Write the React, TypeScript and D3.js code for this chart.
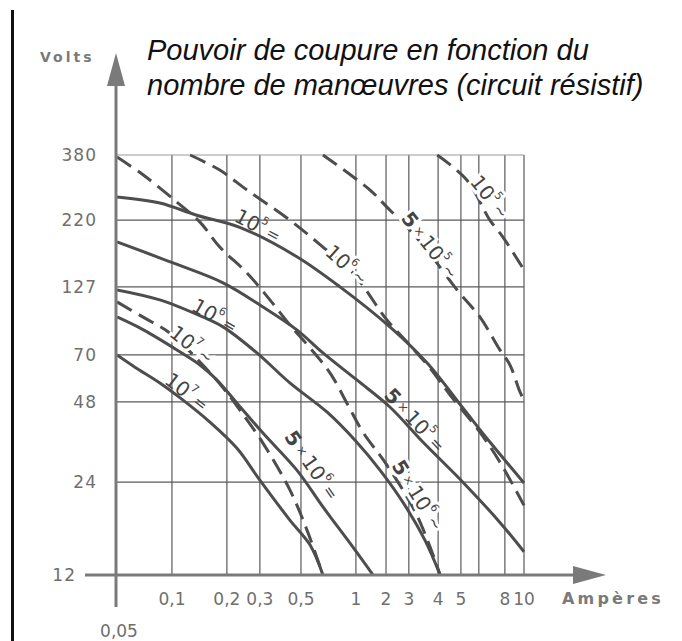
import * as d3 from "d3";

const W = 682;
const H = 641;
const PLOT = { left: 117, right: 524, top: 155, bottom: 575 };

// ampères: the grid is hand drawn, each line sits at its own place
const AMP_TICKS = [0.05, 0.1, 0.2, 0.3, 0.5, 1, 2, 3, 4, 5, 6, 8, 10];
const AMP_LABELS = ["0,05", "0,1", "0,2", "0,3", "0,5", "1", "2", "3", "4", "5", "", "8", "10"];
const AMP_FRAC = [0, 0.135, 0.27, 0.351, 0.452, 0.587, 0.661, 0.717, 0.789, 0.845, 0.889, 0.953, 1];

// volts
const VOLT_TICKS = [12, 24, 48, 70, 127, 220, 380];
const VOLT_FRAC = [0, 0.221, 0.412, 0.524, 0.686, 0.845, 1];

// continu (=), traits pleins : [A, V]
const DC_1E5 = [[0.05, 277], [0.089, 262], [0.145, 232], [0.239, 210], [0.48, 169], [0.855, 127], [2.17, 93.5], [3.62, 66.3], [5.11, 46.2], [6.85, 36], [10, 23.9]];
const DC_5E5 = [[0.05, 189.5], [0.102, 160.3], [0.193, 132.6], [0.315, 110.2], [0.48, 91], [0.7, 71.7], [1.03, 58.3], [2.17, 46.5], [3.48, 36], [5.11, 24], [7.62, 18.8], [10, 15]];
const DC_1E6 = [[0.05, 124.5], [0.089, 116.1], [0.156, 101.8], [0.193, 93.5], [0.291, 71.7], [0.446, 56.9], [0.736, 45], [0.99, 36.6], [1.8, 27.6], [2.83, 21], [3.55, 16.5], [4.09, 12]];
const DC_5E6 = [[0.05, 101.8], [0.074, 91], [0.109, 74.2], [0.151, 65.3], [0.182, 58.3], [0.23, 47.7], [0.315, 38.7], [0.48, 27.6], [0.7, 20.8], [0.973, 15.6], [1.57, 12]];
const DC_1E7 = [[0.05, 70], [0.066, 64.4], [0.089, 56.9], [0.115, 49.9], [0.169, 42], [0.23, 34.2], [0.3, 24.6], [0.446, 19.1], [0.582, 15.9], [0.7, 12]];

// alternatif (~), tirets
const AC_1E5 = [[3.97, 380], [5.33, 318.5], [6.85, 220], [7.85, 196.4], [10, 150.6]];
const AC_5E5 = [[0.7, 380], [1.47, 293.9], [2.04, 252], [3.03, 206.1], [3.62, 178.4], [4.83, 124.5], [6.08, 101.8], [7.62, 74.2], [8.53, 65.3], [9.58, 52.7], [10, 48.9]];
const AC_1E6 = [[0.133, 380], [0.187, 343], [0.261, 293.9], [0.446, 220], [0.7, 182.5], [0.973, 146.4], [2.04, 99.3], [3.03, 78.4], [3.72, 63.9], [4.52, 51.3], [6.08, 39], [7.62, 30], [9.26, 22.7], [10, 21]];
const AC_5E6 = [[0.05, 375], [0.074, 330.8], [0.109, 264.3], [0.151, 217.2], [0.187, 182.5], [0.261, 146.4], [0.349, 116.1], [0.446, 95.1], [0.582, 75.9], [0.764, 61.6], [0.927, 47.1], [1.23, 39], [2.04, 29.1], [3.28, 19.7], [4.09, 12]];
const AC_1E7 = [[0.05, 114.4], [0.075, 101], [0.098, 88.4], [0.151, 66.7], [0.193, 54.6], [0.239, 45.6], [0.315, 35.7], [0.446, 23], [0.555, 17.8], [0.69, 12.4]];

const SOLID = [DC_1E5, DC_5E5, DC_1E6, DC_5E6, DC_1E7];
const DASHED = [AC_1E5, AC_5E5, AC_1E6, AC_5E6, AC_1E7];

// curve names written along the lines
const LABELS = [
  { coef: "", exp: "5", kind: "=", a: 0.294, v: 212, angle: 28 },
  { coef: "", exp: "6", kind: "~", a: 0.918, v: 157.5, angle: 42 },
  { coef: "5", exp: "5", kind: "~", a: 3.72, v: 185, angle: 52 },
  { coef: "", exp: "5", kind: "~", a: 6.85, v: 277, angle: 52 },
  { coef: "", exp: "6", kind: "=", a: 0.178, v: 102.7, angle: 30 },
  { coef: "", exp: "7", kind: "~", a: 0.136, v: 78.4, angle: 38 },
  { coef: "", exp: "7", kind: "=", a: 0.127, v: 52.7, angle: 38 },
  { coef: "5", exp: "6", kind: "=", a: 0.6, v: 29.1, angle: 55 },
  { coef: "5", exp: "5", kind: "=", a: 3.21, v: 42.6, angle: 47 },
  { coef: "5", exp: "6", kind: "~", a: 3.31, v: 22.3, angle: 58 },
];

const INK = "#4d4d4d";
const GRID = "#5a5a5a";
const AXIS = "#7a7a7a";
const TICK = "#6f6f6f";

export default function App() {
  const pw = PLOT.right - PLOT.left;
  const ph = PLOT.bottom - PLOT.top;

  const x = d3.scaleLinear().domain(AMP_TICKS).range(AMP_FRAC.map((f) => PLOT.left + f * pw));
  const y = d3.scaleLinear().domain(VOLT_TICKS).range(VOLT_FRAC.map((f) => PLOT.bottom - f * ph));

  const line = d3
    .line<number[]>()
    .x((d) => x(d[0]))
    .y((d) => y(d[1]))
    .curve(d3.curveCatmullRom.alpha(0.5));

  const font = "DejaVu Sans, Verdana, sans-serif";

  return (
    <svg width={W} height={H} style={{ position: "absolute", left: 0, top: 0, background: "#fff" }}>
      <defs>
        <clipPath id="plotclip">
          <rect x={PLOT.left} y={PLOT.top - 2} width={pw + 2} height={ph + 2} />
        </clipPath>
      </defs>

      <rect x={11} y={10} width={3} height={H - 10} fill="#111" />

      <text fontFamily="Liberation Sans, Arial, sans-serif" fontStyle="italic" fontSize={29} fill="#111">
        <tspan x={147} y={60}>Pouvoir de coupure en fonction du</tspan>
        <tspan x={147} y={95}>nombre de manœuvres (circuit résistif)</tspan>
      </text>

      {/* grid */}
      {AMP_TICKS.slice(1).map((a) => (
        <line key={"vx" + a} x1={x(a)} x2={x(a)} y1={PLOT.top} y2={PLOT.bottom} stroke={GRID} strokeWidth={1.2} />
      ))}
      {VOLT_TICKS.slice(1).map((v) => (
        <line key={"hy" + v} x1={PLOT.left} x2={PLOT.right} y1={y(v)} y2={y(v)}
          stroke={v === 380 ? "#9a9a9a" : GRID} strokeWidth={1.2} />
      ))}

      {/* curves */}
      <g clipPath="url(#plotclip)" fill="none" strokeLinecap="butt">
        {SOLID.map((c, i) => (
          <path key={"s" + i} d={line(c) ?? ""} stroke={INK} strokeWidth={3} />
        ))}
        {DASHED.map((c, i) => (
          <path key={"d" + i} d={line(c) ?? ""} stroke={INK} strokeWidth={3} strokeDasharray="17 8" />
        ))}
      </g>

      {/* curve labels */}
      {LABELS.map((l, i) => (
        <g key={"l" + i} transform={`translate(${x(l.a)},${y(l.v)}) rotate(${l.angle})`}>
          <text
            textAnchor="middle"
            dominantBaseline="central"
            fontFamily={font}
            fontSize={20}
            fill="#444"
            stroke={l.kind === "~" ? "#fff" : "none"}
            strokeWidth={6}
            style={{ paintOrder: "stroke" }}
          >
            {l.coef && <tspan fontWeight="bold">{l.coef}</tspan>}
            {l.coef && <tspan fontSize={12} dx={3}>×</tspan>}
            <tspan dx={l.coef ? 3 : 0}>10</tspan>
            <tspan fontSize={11} dy={-8}>{l.exp}</tspan>
            <tspan fontSize={16} dy={8} dx={3}>{l.kind}</tspan>
          </text>
        </g>
      ))}

      {/* axes */}
      <line x1={PLOT.left - 1} x2={PLOT.left - 1} y1={607} y2={86} stroke={AXIS} strokeWidth={3} />
      <path d={`M${PLOT.left - 1},53 L${PLOT.left - 10},86 L${PLOT.left + 8},86 Z`} fill={AXIS} />
      <line x1={85} x2={574} y1={PLOT.bottom} y2={PLOT.bottom} stroke={AXIS} strokeWidth={3} />
      <path d={`M606,${PLOT.bottom} L573,${PLOT.bottom - 9} L573,${PLOT.bottom + 9} Z`} fill={AXIS} />

      {/* tick labels */}
      <g fontFamily={font} fontSize={17} fill={TICK}>
        {VOLT_TICKS.map((v) => (
          <text key={"yt" + v} x={v === 12 ? 76 : 97} y={y(v)} textAnchor="end" dominantBaseline="central" letterSpacing={1}>
            {v}
          </text>
        ))}
        {AMP_TICKS.map((a, i) =>
          a === 0.05 ? (
            <text key={"xt" + a} x={x(a) + 2} y={637} textAnchor="middle">{AMP_LABELS[i]}</text>
          ) : (
            <text key={"xt" + a} x={x(a)} y={605} textAnchor="middle">{AMP_LABELS[i]}</text>
          )
        )}
      </g>

      <text x={40} y={62} fontFamily={font} fontWeight="bold" fontSize={14} letterSpacing={3} fill={AXIS}>Volts</text>
      <text x={562} y={604} fontFamily={font} fontWeight="bold" fontSize={16} letterSpacing={3.2} fill={AXIS}>Ampères</text>
    </svg>
  );
}
